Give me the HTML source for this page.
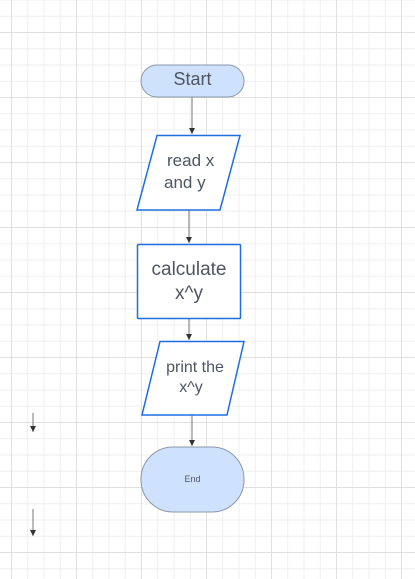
<!DOCTYPE html>
<html><head><meta charset="utf-8"><style>
html,body{margin:0;padding:0;background:#fff;}
svg{display:block;}
text{font-family:"Liberation Sans",sans-serif;fill:#4f5562;}
</style></head><body>
<svg width="415" height="579" viewBox="0 0 415 579" xmlns="http://www.w3.org/2000/svg">
<defs>
<pattern id="g" x="11" y="32" width="65" height="65" patternUnits="userSpaceOnUse">
<path d="M16.75 0V65M33 0V65M49.25 0V65M0 16.75H65M0 33H65M0 49.25H65" stroke="#efefef" stroke-width="1" fill="none"/>
<path d="M0.5 0V65M0 0.5H65" stroke="#e0e0e0" stroke-width="1" fill="none"/>
</pattern>
<marker id="a" markerWidth="7" markerHeight="7" refX="6" refY="3" orient="auto" markerUnits="userSpaceOnUse">
<path d="M0 0L6 3L0 6Z" fill="#333"/>
</marker>
</defs>
<rect width="415" height="579" fill="url(#g)"/>
<g stroke="#777" stroke-width="1" fill="none">
<line x1="192" y1="97" x2="192" y2="134" marker-end="url(#a)"/>
<line x1="189" y1="210" x2="189" y2="243" marker-end="url(#a)"/>
<line x1="189" y1="318" x2="189" y2="340" marker-end="url(#a)"/>
<line x1="192" y1="415" x2="192" y2="446" marker-end="url(#a)"/>
<line x1="33" y1="413" x2="33" y2="432" marker-end="url(#a)"/>
<line x1="33" y1="509" x2="33" y2="536" marker-end="url(#a)"/>
</g>
<rect x="141" y="65" width="103" height="32" rx="16" fill="#cfe2fd" stroke="#8b97a8" stroke-width="1"/>
<text x="192.5" y="85" font-size="18" text-anchor="middle">Start</text>
<polygon points="157,135.5 240,135.5 220,210 137,210" fill="#fff" stroke="#1d6fe0" stroke-width="1.5"/>
<text x="167" y="166" font-size="17">read x</text>
<text x="164" y="188" font-size="17">and y</text>
<rect x="137.5" y="244.5" width="103" height="74" fill="#fff" stroke="#1d6fe0" stroke-width="1.5" rx="1"/>
<text x="189" y="275" font-size="19" text-anchor="middle">calculate</text>
<text x="189" y="299" font-size="19" text-anchor="middle">x^y</text>
<polygon points="160,341.5 244,341.5 227,415 142,415" fill="#fff" stroke="#1d6fe0" stroke-width="1.5"/>
<text x="195" y="372" font-size="16" text-anchor="middle">print the</text>
<text x="191" y="392" font-size="16" text-anchor="middle">x^y</text>
<rect x="141" y="447" width="103" height="65" rx="32" fill="#cfe2fd" stroke="#8b97a8" stroke-width="1"/>
<text x="192.5" y="482" font-size="9" text-anchor="middle">End</text>
</svg>
</body></html>
